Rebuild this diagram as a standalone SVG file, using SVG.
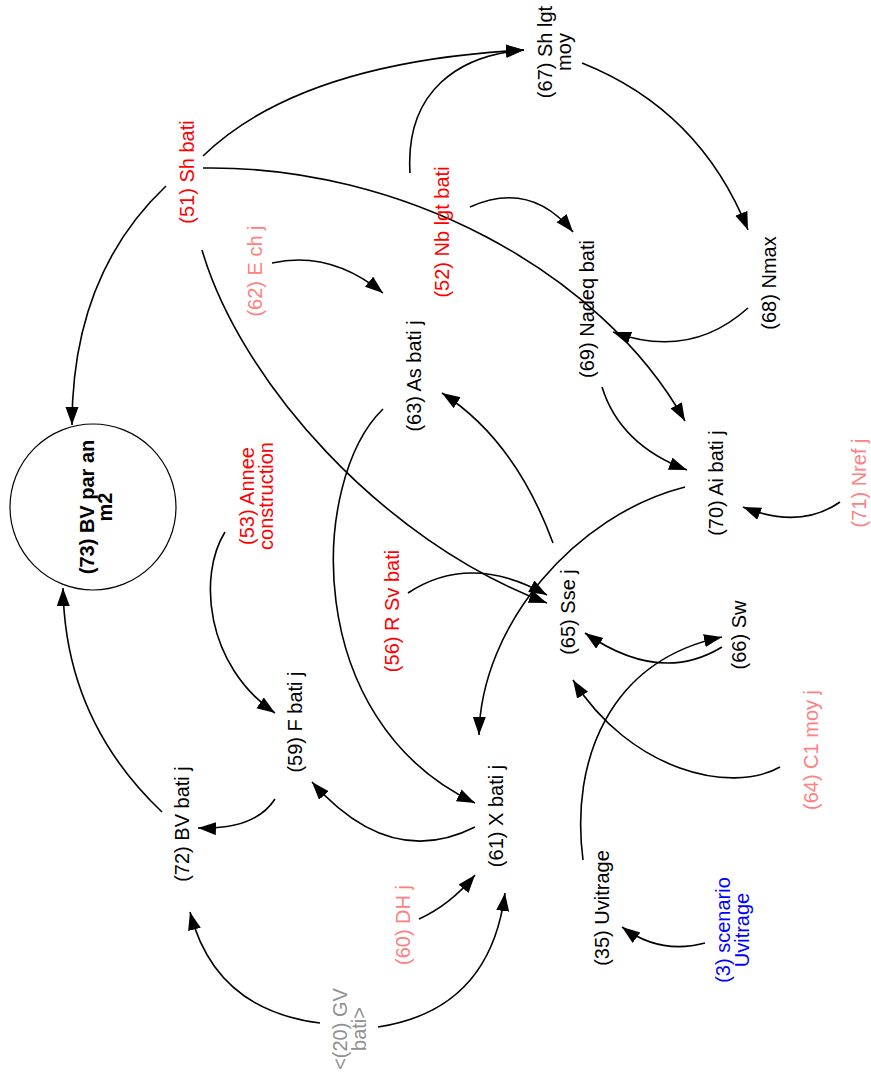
<svg xmlns="http://www.w3.org/2000/svg" width="871" height="1074" viewBox="0 0 871 1074">
<defs>
<marker id="ah" markerUnits="userSpaceOnUse" markerWidth="20" markerHeight="14" refX="18" refY="6.5" orient="auto">
<path d="M0,0 L18,6.5 L0,13 z" fill="#000"/>
</marker>
<style>
text{font-family:"Liberation Sans",Arial,sans-serif;font-size:20px;text-anchor:middle}
.blk{fill:#000}
.red{fill:#FF0000}
.pink{fill:#FF8080}
.gray{fill:#909090}
.blue{fill:#0000FF}
.bold{font-weight:bold}
#edges path{fill:none;stroke:#000;stroke-width:1.6;marker-end:url(#ah)}
</style>
</defs>
<rect width="871" height="1074" fill="#fff"/>
<g id="edges">
<path d="M166,186 Q72,275 72,425"/>
<path d="M203,156 Q300,62 524,50"/>
<path d="M203,168 C400,165 600,270 685,421"/>
<path d="M202,250 C240,380 380,540 547,603"/>
<path d="M408,593 Q470,552 547,595"/>
<path d="M410,173 C405,90 460,55 524,50"/>
<path d="M470,207 Q530,180 573,232"/>
<path d="M272,263 Q330,250 383,293"/>
<path d="M582,63 Q700,110 748,230"/>
<path d="M748,308 Q690,360 613,332"/>
<path d="M602,387 Q620,445 687,470"/>
<path d="M840,502 Q800,530 743,507"/>
<path d="M685,487 C575,515 481,625 479,735"/>
<path d="M553,543 Q515,440 442,393"/>
<path d="M383,409 C310,480 300,720 475,803"/>
<path d="M225,532 C198,575 205,665 275,713"/>
<path d="M275,799 Q255,830 198,828"/>
<path d="M475,827 Q390,870 312,782"/>
<path d="M419,919 Q450,905 475,875"/>
<path d="M320,1023 Q215,1010 190,912"/>
<path d="M378,1027 Q490,1010 505,893"/>
<path d="M162,812 Q65,720 63,588"/>
<path d="M722,647 Q660,685 585,633"/>
<path d="M583,860 C570,760 610,660 722,637"/>
<path d="M780,767 C730,795 630,770 573,680"/>
<path d="M705,943 Q660,955 622,927"/>
</g>
<g id="n73"><circle cx="93" cy="507" r="83" fill="none" stroke="#000" stroke-width="1.2"/>
<text class="blk bold" transform="translate(94,507) rotate(-90)"><tspan x="0" y="0">(73) BV par an</tspan><tspan x="0" y="18">m2</tspan></text></g>
<g id="n51"><text class="red" transform="translate(194,172) rotate(-90)">(51) Sh bati</text></g>
<g id="n62"><text class="pink" transform="translate(262,271) rotate(-90)">(62) E ch j</text></g>
<g id="n52"><text class="red" transform="translate(449,232) rotate(-90)">(52) Nb lgt bati</text></g>
<g id="n67"><text class="blk" transform="translate(552,52) rotate(-90)"><tspan x="0" y="0">(67) Sh lgt</tspan><tspan x="0" y="19">moy</tspan></text></g>
<g id="n68"><text class="blk" transform="translate(776,283) rotate(-90)">(68) Nmax</text></g>
<g id="n69"><text class="blk" transform="translate(594,309) rotate(-90)">(69) Nadeq bati</text></g>
<g id="n70"><text class="blk" transform="translate(723,483) rotate(-90)">(70) Ai bati j</text></g>
<g id="n71"><text class="pink" transform="translate(866,483) rotate(-90)">(71) Nref j</text></g>
<g id="n63"><text class="blk" transform="translate(421,376) rotate(-90)">(63) As bati j</text></g>
<g id="n65"><text class="blk" transform="translate(575,612) rotate(-90)">(65) Sse j</text></g>
<g id="n56"><text class="red" transform="translate(399,611) rotate(-90)">(56) R Sv bati</text></g>
<g id="n66"><text class="blk" transform="translate(746,635) rotate(-90)">(66) Sw</text></g>
<g id="n64"><text class="pink" transform="translate(818,750) rotate(-90)">(64) C1 moy j</text></g>
<g id="n35"><text class="blk" transform="translate(609,908) rotate(-90)">(35) Uvitrage</text></g>
<g id="n3"><text class="blue" transform="translate(730,930) rotate(-90)"><tspan x="0" y="0">(3) scenario</tspan><tspan x="0" y="19">Uvitrage</tspan></text></g>
<g id="n53"><text class="red" transform="translate(254,496) rotate(-90)"><tspan x="0" y="0">(53) Annee</tspan><tspan x="0" y="19">construction</tspan></text></g>
<g id="n59"><text class="blk" transform="translate(302,722) rotate(-90)">(59) F bati j</text></g>
<g id="n72"><text class="blk" transform="translate(189,824) rotate(-90)">(72) BV bati j</text></g>
<g id="n61"><text class="blk" transform="translate(503,816) rotate(-90)">(61) X bati j</text></g>
<g id="n60"><text class="pink" transform="translate(410,925) rotate(-90)">(60) DH j</text></g>
<g id="n20"><text class="gray" transform="translate(347,1029) rotate(-90)"><tspan x="0" y="0">&lt;(20) GV</tspan><tspan x="0" y="19">bati&gt;</tspan></text></g>
</svg>
